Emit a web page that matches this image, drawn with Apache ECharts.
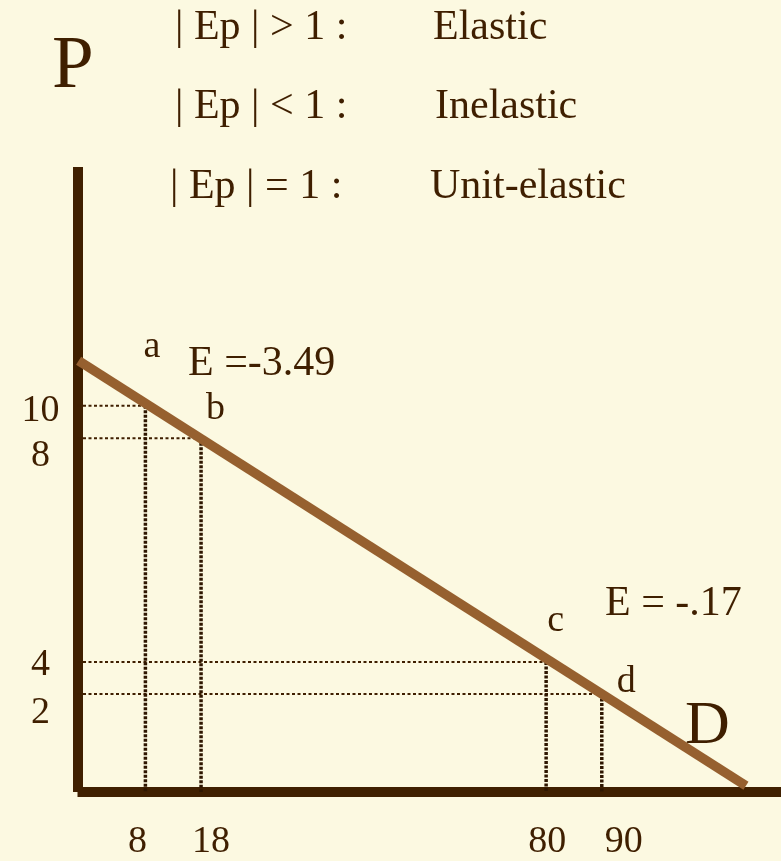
<!DOCTYPE html>
<html>
<head>
<meta charset="utf-8">
<title>Price elasticity along a demand line</title>
<script src="https://cdn.jsdelivr.net/npm/echarts@6/dist/echarts.min.js"></script>
<style>
  html, body { margin: 0; padding: 0; background: #fcf9e1; }
  #chart { width: 781px; height: 861px; }
</style>
</head>
<body>
<div id="chart"></div>
<script>
// points on the demand line
const pointNames = ['a', 'b', 'c', 'd'];
const quantity = [8, 18, 80, 90];      // Q (x tick labels)
const price = [10, 8, 4, 2];           // P (y tick labels)
// the P axis is not drawn to scale: height of each point on it, 0 = Q axis, 100 = top of P axis
const pointHeight = [61.8, 56.6, 20.8, 15.7];

// demand line D, from the P axis down to the Q axis
const demandQ = [-4.0, 115.9];
const demandHeight = [69.0, 1.0];

const elasticityText = ['E =-3.49', 'E = -.17'];
const ruleText = ['| Ep | > 1 :', '| Ep | < 1 :', '| Ep | = 1 :'];
const ruleName = ['Elastic', 'Inelastic', 'Unit-elastic'];

const xMin = -4.2, xMax = 122.2;
const ink = '#3f1f00';
const axisColor = '#402000';
const lineColor = '#96602f';
const serif = '"Liberation Serif", "DejaVu Serif", serif';

// the hand-drawn figure puts its tick labels a little off the guide lines
const xLabelShift = [-8, 10, 1, 22];
const yLabelShift = [5, 18, 3, 19];
// where each point letter sits next to its point
const letterOffset = [[-2, -59], [5, -29], [1, -41], [15, -12]];

const myChart = echarts.init(document.getElementById('chart'));

const guideH = quantity.map((q, i) => ({
  type: 'line',
  silent: true,
  symbol: 'none',
  z: 2,
  lineStyle: { color: ink, width: 2, type: [3, 2.5] },
  data: [[xMin, pointHeight[i]], [q, pointHeight[i]]]
}));

const guideV = quantity.map((q, i) => ({
  type: 'line',
  silent: true,
  symbol: 'none',
  z: 2,
  lineStyle: { color: '#2e1600', width: 3.5, type: [3, 1.5] },
  data: [[q, pointHeight[i]], [q, 0]]
}));

// shift each label without growing its box (so none is hidden as overlapping)
const xRich = {}, yRich = {};
xLabelShift.forEach((s, i) => {
  xRich['s' + i] = {
    color: ink, fontFamily: serif, fontSize: 38, lineHeight: 30,
    padding: [0, -s, 0, s]
  };
});
yLabelShift.forEach((s, i) => {
  yRich['s' + i] = {
    color: ink, fontFamily: serif, fontSize: 38, lineHeight: 20,
    padding: [s, 0, -s, 0]
  };
});

// the price labels sit close in pairs; list them interleaved so that the
// first/last label check of the axis never sees two neighbours
const yLabelValues = [pointHeight[0], pointHeight[2], pointHeight[1], pointHeight[3]];

const option = {
  animation: false,
  backgroundColor: '#fcf9e1',
  grid: {
    left: 77.5,
    right: 0,
    top: 167,
    bottom: 69
  },
  xAxis: {
    type: 'value',
    min: xMin,
    max: xMax,
    splitLine: { show: false },
    axisTick: { show: false },
    axisLine: { onZero: false, lineStyle: { color: axisColor, width: 10, cap: 'butt' } },
    axisLabel: {
      customValues: quantity,
      showMinLabel: true,
      showMaxLabel: true,
      hideOverlap: false,
      formatter: (v) => '{s' + quantity.indexOf(v) + '|' + v + '}',
      rich: xRich,
      align: 'center',
      verticalAlign: 'middle',
      margin: 50
    }
  },
  yAxis: {
    type: 'value',
    min: 0,
    max: 100,
    splitLine: { show: false },
    axisTick: { show: false },
    axisLine: { show: true, onZero: false, lineStyle: { color: axisColor, width: 10, cap: 'butt' } },
    axisLabel: {
      customValues: yLabelValues,
      showMinLabel: true,
      showMaxLabel: true,
      hideOverlap: false,
      formatter: (v) => {
        const i = pointHeight.indexOf(v);
        return '{s' + i + '|' + price[i] + '}';
      },
      rich: yRich,
      align: 'center',
      verticalAlign: 'middle',
      margin: 37
    }
  },
  series: [
    ...guideH,
    ...guideV,
    {
      name: 'D',
      type: 'line',
      silent: true,
      symbol: 'none',
      z: 5,
      lineStyle: { color: lineColor, width: 9.5, cap: 'butt' },
      data: demandQ.map((q, i) => [q, demandHeight[i]])
    },
    {
      name: 'points',
      type: 'scatter',
      silent: true,
      symbolSize: 0,
      z: 6,
      itemStyle: { opacity: 1 },
      data: quantity.map((q, i) => ({
        value: [q, pointHeight[i]],
        label: {
          show: true,
          formatter: pointNames[i],
          position: 'inside',
          offset: letterOffset[i],
          align: 'left',
          verticalAlign: 'middle',
          color: ink,
          opacity: 1,
          fontFamily: serif,
          fontSize: 38
        }
      }))
    }
  ],
  graphic: [
    { type: 'text', left: 52, top: 30, style: { text: 'P', font: '75px ' + serif, fill: ink } },
    ...ruleText.map((t, i) => ({
      type: 'text', left: [175, 175, 170][i], top: [7, 86, 166][i],
      style: { text: t, font: '42px ' + serif, fill: ink }
    })),
    ...ruleName.map((t, i) => ({
      type: 'text', left: [433, 435, 430][i], top: [7, 86, 166][i],
      style: { text: t, font: '42px ' + serif, fill: ink }
    })),
    { type: 'text', left: 188, top: 343, style: { text: elasticityText[0], font: '42px ' + serif, fill: ink } },
    { type: 'text', left: 605, top: 583, style: { text: elasticityText[1], font: '42px ' + serif, fill: ink } },
    { type: 'text', left: 685, top: 696, style: { text: 'D', font: '62px ' + serif, fill: ink } }
  ]
};

myChart.setOption(option);
</script>
</body>
</html>
